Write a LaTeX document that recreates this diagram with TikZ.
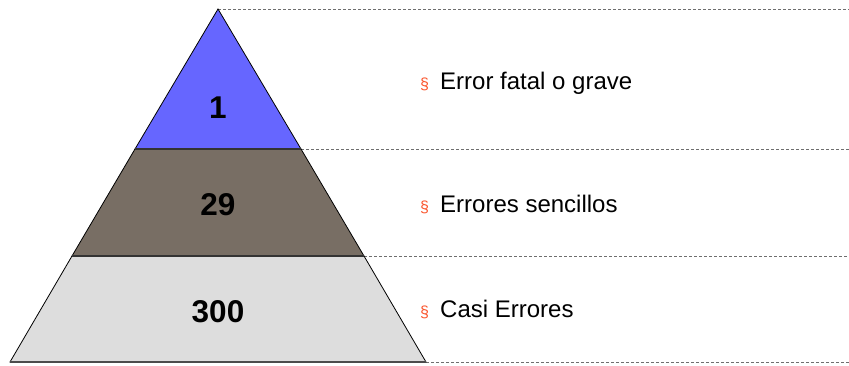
\documentclass[tikz,border=0pt]{standalone}
\usepackage{fontspec}
\setmainfont{Liberation Sans}
\definecolor{topblue}{RGB}{102,102,255}
\definecolor{midbrown}{RGB}{120,110,100}
\definecolor{lowgray}{RGB}{221,221,221}
\definecolor{bulletred}{RGB}{250,85,45}
\definecolor{dashgray}{RGB}{110,110,110}
\tikzset{
  level/.style={draw=black, line width=0.8pt, line join=miter},
  guide/.style={draw=dashgray, line width=0.7pt, dash pattern=on 3pt off 2pt},
  num/.style={anchor=base, font=\fontsize{31.5}{33}\selectfont\bfseries, inner sep=0pt},
  lab/.style={anchor=base west, font=\fontsize{24}{27}\selectfont, inner sep=0pt},
  bul/.style={anchor=base west, text=bulletred, font=\fontsize{16}{18}\selectfont, inner sep=0pt}
}
\begin{document}
\begin{tikzpicture}[x=1pt,y=-1pt]
\useasboundingbox (0,0) rectangle (849,365);
\coordinate (apex) at (218,9);
\coordinate (l1) at (135,149);
\coordinate (r1) at (301,149);
\coordinate (l2) at (72,256);
\coordinate (r2) at (364,256);
\coordinate (l3) at (10,362);
\coordinate (r3) at (426,362);
\coordinate (e0) at (849,9);
\coordinate (e1) at (849,149);
\coordinate (e2) at (849,256);
\coordinate (e3) at (849,362);
% dashed guides
\draw[guide] (apex) -- (e0);
\draw[guide] (r1) -- (e1);
\draw[guide] (r2) -- (e2);
\draw[guide] (r3) -- (e3);
% pyramid layers
\filldraw[level, fill=lowgray] (l2) -- (r2) -- (r3) -- (l3) -- cycle;
\filldraw[level, fill=midbrown] (l1) -- (r1) -- (r2) -- (l2) -- cycle;
\filldraw[level, fill=topblue] (apex) -- (r1) -- (l1) -- cycle;
\draw[line width=1.4pt, draw=black!80] (l1) -- (r1);
\draw[line width=1.4pt, draw=black!80] (l2) -- (r2);
\draw[line width=1.4pt, draw=black!70] (l3) -- (r3);
% numbers
\node[num] (n1) at (218,118) {1};
\node[num] (n2) at (218,215) {29};
\node[num] (n3) at (218,322) {300};
% labels
\node[bul] (b1) at (420,89) {§};
\node[lab] (t1) at (440,89) {Error fatal o grave};
\node[bul] (b2) at (420,212) {§};
\node[lab] (t2) at (440,212) {Errores sencillos};
\node[bul] (b3) at (420,317) {§};
\node[lab] (t3) at (440,317) {Casi Errores};
\end{tikzpicture}
\end{document}
